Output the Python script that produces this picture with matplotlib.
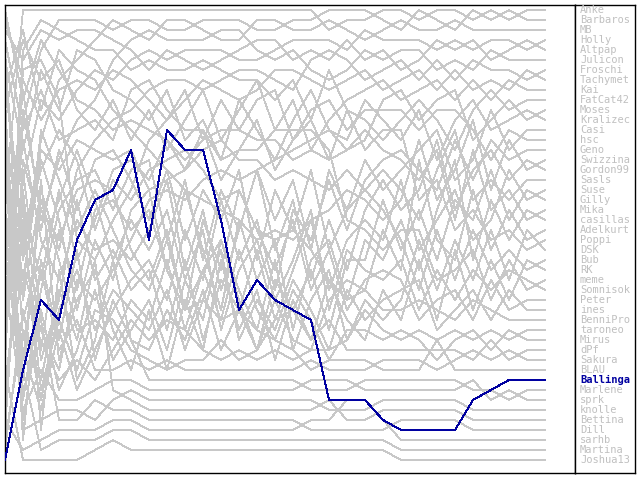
import matplotlib
matplotlib.use("Agg")
import matplotlib.pyplot as plt

# players in final order (rank 1 .. 46)
names = ["Anke", "Barbaros", "MB", "Holly", "Altpap", "Julicon", "Froschi", "Tachymet",
         "Kai", "FatCat42", "Moses", "Kralizec", "Casi", "hsc", "Geno", "Swizzina",
         "Gordon99", "Sasls", "Suse", "Gilly", "Mika", "casillas", "Adelkurt", "Poppi",
         "DSK", "Bub", "RK", "meme", "Somnisok", "Peter", "ines", "BenniPro", "taroneo",
         "Mirus", "dPf", "Sakura", "BLAU", "Ballinga", "Marlene", "sprk", "knolle",
         "Bettina", "Dill", "sarhb", "Martina", "Joshua13"]
highlight = "Ballinga"

# rank per matchday (0..30)
ranks = {
    "Anke":     [20,1,1,1,1,1,1,1,1,1,1,1,1,1,1,1,1,1,3,2,2,1,1,2,1,1,2,1,2,1,1],
    "Barbaros": [35,12,5,2,2,2,3,2,2,3,3,2,2,2,3,3,2,2,1,1,1,2,3,1,2,3,1,2,1,2,2],
    "MB":       [8,25,14,8,6,4,2,3,4,2,2,3,4,4,2,2,3,3,2,3,4,3,2,3,3,2,3,3,3,3,3],
    "Holly":    [41,18,10,12,9,7,8,6,5,6,5,5,5,6,6,5,4,4,4,5,3,4,4,4,5,4,5,4,4,5,4],
    "Altpap":   [3,6,3,4,3,3,4,5,7,5,6,7,6,5,4,4,6,5,6,4,6,5,7,6,4,5,4,6,5,4,5],
    "Julicon":  [27,9,22,16,12,10,6,4,3,4,4,4,3,3,5,6,5,7,8,7,5,6,5,5,7,6,7,5,6,6,6],
    "Froschi":  [14,30,19,25,17,14,12,11,9,8,8,9,8,7,7,8,9,6,5,6,8,7,6,8,6,8,6,7,7,8,7],
    "Tachymet": [44,33,38,29,34,26,22,19,14,12,10,8,9,10,9,7,7,8,9,8,7,9,8,7,9,7,9,8,9,7,8],
    "Kai":      [11,4,8,6,11,13,10,14,11,15,12,9,14,11,8,13,10,15,12,10,9,8,10,9,8,10,8,10,8,9,9],
    "FatCat42": [30,21,28,19,26,22,17,16,18,14,17,13,18,15,12,17,14,12,16,11,12,14,12,10,12,15,11,9,11,10,10],
    "Moses":    [6,15,7,11,5,6,9,10,12,9,14,12,16,10,13,16,12,9,13,15,14,10,9,12,10,9,14,12,10,12,11],
    "Kralizec": [38,27,33,37,28,30,27,24,20,19,20,18,17,18,17,16,15,14,13,14,10,12,14,11,16,12,10,13,12,11,12],
    "Casi":     [17,40,29,21,18,17,21,17,16,24,18,26,19,23,17,22,18,25,17,21,16,19,17,15,13,18,16,11,15,13,13],
    "hsc":      [2,8,12,9,8,9,7,8,10,12,9,14,10,13,10,9,14,11,10,13,11,11,11,13,11,11,13,16,13,14,14],
    "Geno":     [24,35,41,33,39,35,31,28,26,30,23,28,20,26,22,29,21,24,18,23,18,16,15,17,19,14,18,14,16,15,15],
    "Swizzina": [9,3,11,5,7,8,11,13,15,17,19,20,21,22,24,23,24,22,21,19,20,22,20,14,20,17,12,19,14,17,16],
    "Gordon99": [32,14,24,28,22,25,24,26,23,18,27,21,29,23,17,25,20,28,22,27,21,18,21,19,14,21,17,15,18,16,17],
    "Sasls":    [15,28,16,22,31,24,28,21,19,18,17,15,14,16,16,18,17,18,19,17,19,17,19,22,17,13,20,18,20,18,18],
    "Suse":     [40,23,36,30,20,28,25,29,27,33,26,34,28,31,25,32,27,22,29,24,22,24,18,25,22,19,24,22,17,20,19],
    "Gilly":    [21,36,20,26,33,32,34,30,32,26,33,27,24,30,35,28,31,27,33,26,26,20,25,21,26,20,22,17,22,19,20],
    "Mika":     [1,10,4,7,10,11,13,12,13,14,16,14,13,13,14,14,16,15,16,15,13,15,16,18,15,22,15,21,19,22,21],
    "casillas": [29,19,35,23,29,21,20,23,21,27,19,25,31,22,28,24,33,26,24,30,24,26,22,27,21,16,26,20,24,21,22],
    "Adelkurt": [12,44,26,34,25,36,30,34,35,31,34,29,35,31,35,30,34,35,30,28,29,23,27,16,24,26,19,25,21,24,23],
    "Poppi":    [36,5,2,3,4,5,5,7,6,7,7,6,7,8,8,10,8,12,7,11,15,13,13,20,18,23,21,24,23,25,24],
    "DSK":      [22,42,31,39,35,29,36,33,30,35,28,32,24,29,33,26,35,30,27,34,30,32,30,24,29,24,28,23,28,23,25],
    "Bub":      [43,16,23,15,21,16,15,18,22,17,24,19,22,17,26,19,23,17,25,21,19,21,24,29,23,28,23,27,25,27,26],
    "RK":       [16,38,18,36,30,27,33,37,31,37,30,35,26,33,29,36,30,34,28,32,34,29,32,26,32,25,31,26,30,26,27],
    "meme":     [4,13,9,14,13,12,14,9,8,11,13,13,16,15,15,13,13,13,15,22,23,25,23,23,28,27,25,30,26,29,28],
    "Somnisok": [33,20,43,27,38,34,26,22,25,21,28,23,33,27,24,30,26,21,31,25,27,28,26,31,27,30,27,29,27,28,29],
    "Peter":    [19,29,13,18,23,19,23,27,29,24,31,22,27,19,23,27,22,29,25,31,28,27,28,32,30,29,32,28,31,30,30],
    "ines":     [45,31,40,31,27,33,29,31,33,29,35,30,25,34,30,33,28,31,35,29,32,30,29,28,33,31,29,32,29,31,31],
    "BenniPro": [7,24,17,13,16,23,18,20,17,16,15,17,20,19,23,24,23,25,28,30,29,31,31,30,31,32,30,31,32,32,32],
    "taroneo":  [25,39,34,38,36,38,35,32,34,32,33,35,36,35,36,35,36,35,35,34,31,33,34,33,34,33,34,33,34,33,33],
    "Mirus":    [31,11,21,24,19,18,19,25,28,23,31,27,32,25,31,34,29,32,36,33,33,34,33,34,36,34,33,35,33,34,34],
    "dPf":      [39,22,39,32,37,31,32,35,36,37,36,36,34,36,35,32,31,34,32,35,35,35,35,35,35,35,36,34,36,35,35],
    "Sakura":   [5,34,27,35,32,37,37,36,37,36,37,37,37,37,37,37,37,36,37,37,37,36,36,36,37,36,35,36,35,36,36],
    "BLAU":     [13,26,15,17,14,15,16,15,19,27,31,30,32,31,33,34,35,37,36,36,36,37,37,37,34,37,37,37,37,37,37],
    "Ballinga": [46,37,30,32,24,20,19,15,24,13,15,15,22,31,28,30,31,32,40,40,40,42,43,43,43,43,40,39,38,38,38],
    "Marlene":  [18,32,25,20,15,20,26,34,38,38,38,38,38,38,38,38,38,39,39,39,38,38,38,38,38,38,39,39,40,39,39],
    "sprk":     [28,41,37,40,40,39,38,38,39,39,39,39,39,39,39,39,39,38,38,38,39,39,39,39,39,39,38,40,39,40,40],
    "knolle":   [10,43,42,41,41,42,40,39,40,40,40,40,40,40,40,40,40,40,41,41,41,40,40,40,40,40,41,41,41,41,41],
    "Bettina":  [34,7,6,10,24,26,39,40,41,41,41,41,41,41,41,41,41,41,40,42,42,41,41,41,41,41,42,42,42,42,42],
    "Dill":     [23,17,32,42,42,40,41,41,42,42,42,42,42,42,42,42,42,43,43,43,43,43,42,42,42,42,43,43,43,43,43],
    "sarhb":    [42,45,44,43,43,43,42,42,43,43,43,43,43,43,43,43,43,42,42,40,40,42,44,44,44,44,44,44,44,44,44],
    "Martina":  [26,37,45,44,44,44,43,43,44,44,44,44,44,44,44,44,44,44,44,44,44,44,45,45,45,45,45,45,45,45,45],
    "Joshua13": [37,46,46,46,46,45,44,45,45,45,45,45,45,45,45,45,45,45,45,45,45,45,46,46,46,46,46,46,46,46,46],
}

grey = "#c8c8c8"
blue = "#0000a0"

fig = plt.figure(figsize=(6.4, 4.8), dpi=100)
ax = fig.add_axes([5/640, 7/480, 570/640, 468/480])
side = fig.add_axes([575/640, 7/480, 60/640, 468/480])

days = list(range(31))
for n in names:
    if n == highlight:
        continue
    ax.plot(days, ranks[n], color=grey, lw=0.6, antialiased=False)
ax.plot(days, ranks[highlight], color=blue, lw=0.7, antialiased=False, zorder=5)

ax.set_xlim(0, 570/18)
ax.set_ylim(47.3, 0.5)
ax.set_xticks([])
ax.set_yticks([])

side.set_xlim(0, 60)
side.set_ylim(47.3, 0.5)
side.set_xticks([])
side.set_yticks([])
for i, n in enumerate(names):
    if n == highlight:
        side.text(5, i + 1, n, color=blue, fontsize=7.5, family="DejaVu Sans Mono",
                  fontweight="bold", va="center")
    else:
        side.text(5, i + 1, n, color="#c0c0c0", fontsize=7.5, family="DejaVu Sans Mono",
                  va="center")

for a in (ax, side):
    for s in a.spines.values():
        s.set_color("black")
        s.set_linewidth(1)

fig.savefig("out.png", dpi=100)
